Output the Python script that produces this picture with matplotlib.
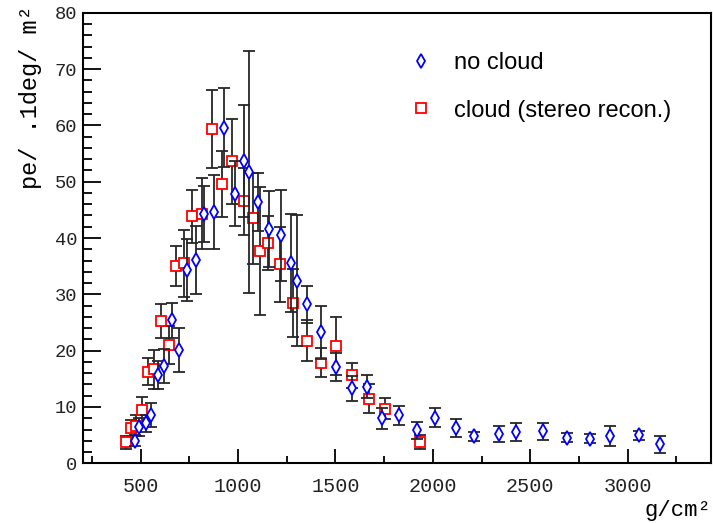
import matplotlib
matplotlib.use("Agg")
import matplotlib.pyplot as plt
from matplotlib.ticker import MultipleLocator

# depth (g/cm^2) vs signal
# no cloud
nc_x = [469, 490, 529, 553, 589, 621, 660, 699, 736, 783, 824, 877, 928, 982,
        1030, 1054, 1101, 1157, 1221, 1274, 1302, 1356, 1426, 1503, 1584, 1660,
        1741, 1827, 1919, 2012, 2117, 2211, 2341, 2427, 2567, 2687, 2807, 2910,
        3060, 3168]
nc_y = [4.0, 6.5, 7.1, 8.6, 15.7, 17.3, 25.4, 20.2, 34.4, 36.1, 44.3, 44.6, 59.6, 47.9,
        53.7, 51.7, 46.4, 41.6, 40.5, 35.5, 32.4, 28.2, 23.3, 17.1, 13.3, 13.6,
        8.0, 8.5, 5.9, 8.1, 6.3, 4.8, 5.2, 5.6, 5.7, 4.5, 4.4, 4.9,
        5.0, 3.4]
nc_err = [1.0, 1.6, 1.5, 2.1, 2.5, 3.0, 3.1, 3.9, 5.5, 6.1, 5.0, 6.5, 7.0, 5.7,
          10.0, 21.5, 5.2, 6.7, 8.1, 8.7, 11.6, 3.3, 4.7, 2.4, 2.2, 2.0,
          1.9, 1.7, 1.5, 1.7, 1.6, 0.8, 1.5, 1.6, 1.5, 0.8, 0.8, 1.8,
          0.8, 1.5]

# cloud (stereo recon.)
cl_x = [427, 451, 478, 506, 540, 570, 606, 645, 683, 725, 766, 817, 864, 919,
        971, 1032, 1079, 1111, 1155, 1213, 1282, 1352, 1427, 1505, 1585, 1670,
        1753, 1933]
cl_y = [3.7, 6.2, 6.7, 9.5, 16.3, 16.7, 25.2, 21.0, 35.0, 35.5, 43.9, 44.3, 59.3, 49.6,
        53.6, 46.5, 43.5, 37.7, 39.1, 35.3, 28.5, 21.8, 17.9, 20.8, 15.6, 11.5,
        9.7, 3.8]
cl_err = [1.2, 1.5, 1.8, 2.2, 2.4, 3.5, 3.0, 3.3, 3.6, 5.9, 4.7, 6.3, 6.9, 5.9,
          7.6, 6.0, 8.1, 11.4, 4.8, 6.7, 6.0, 3.7, 2.5, 5.1, 2.3, 2.5,
          1.9, 1.2]

mono = "Liberation Mono"

fig = plt.figure(figsize=(7.13, 5.23), dpi=100)
ax = fig.add_axes([0.1164, 0.1141, 0.9972 - 0.1164, 0.9757 - 0.1141])

# cloud first, no cloud drawn on top
ax.errorbar(cl_x, cl_y, yerr=cl_err, fmt='none', ecolor='0.15', elinewidth=1.3,
            capsize=4, capthick=1.3, zorder=2)
ax.plot(cl_x, cl_y, 's', mfc='white', mec='red', ms=7.7, mew=1.3, zorder=3,
        label='cloud (stereo recon.)')
ax.errorbar(nc_x, nc_y, yerr=nc_err, fmt='none', ecolor='0.15', elinewidth=1.3,
            capsize=4, capthick=1.3, zorder=4)
ax.plot(nc_x, nc_y, 'd', mfc='white', mec='blue', ms=7.2, mew=1.3, zorder=5,
        label='no cloud')

ax.set_xlim(204, 3428)
ax.set_ylim(0, 80)

ax.xaxis.set_major_locator(MultipleLocator(500))
ax.xaxis.set_minor_locator(MultipleLocator(250))
ax.yaxis.set_major_locator(MultipleLocator(10))
ax.yaxis.set_minor_locator(MultipleLocator(2))

ax.tick_params(axis='x', which='major', direction='in', length=10, width=1.3,
               top=False, pad=10)
ax.tick_params(axis='x', which='minor', direction='in', length=5, width=1.3, top=False)
ax.tick_params(axis='y', which='major', direction='in', length=13, width=1.3,
               right=False, pad=4)
ax.tick_params(axis='y', which='minor', direction='in', length=6.5, width=1.3, right=False)

for lab in ax.get_xticklabels():
    lab.set_fontfamily(mono)
    lab.set_fontsize(14.5)
    lab.set_color('#222222')
for lab in ax.get_yticklabels():
    lab.set_fontfamily(mono)
    lab.set_fontsize(13.5)
    lab.set_color('#222222')

for sp in ax.spines.values():
    sp.set_linewidth(1.5)

ax.set_xlabel("g/cm²", family=mono, fontsize=16, loc='right', labelpad=3)
ax.set_ylabel("pe/ .1deg/ m²", family=mono, fontsize=17, loc='top')
ax.yaxis.set_label_coords(-0.066, 1.017)

handles, labels = ax.get_legend_handles_labels()
ax.legend(handles[::-1], labels[::-1], frameon=False, loc='upper left',
          bbox_to_anchor=(0.49, 0.96), prop={'family': 'Liberation Sans', 'size': 17},
          handlelength=0.8, handletextpad=1.0, labelspacing=1.09)

fig.savefig("out.png", dpi=100)
